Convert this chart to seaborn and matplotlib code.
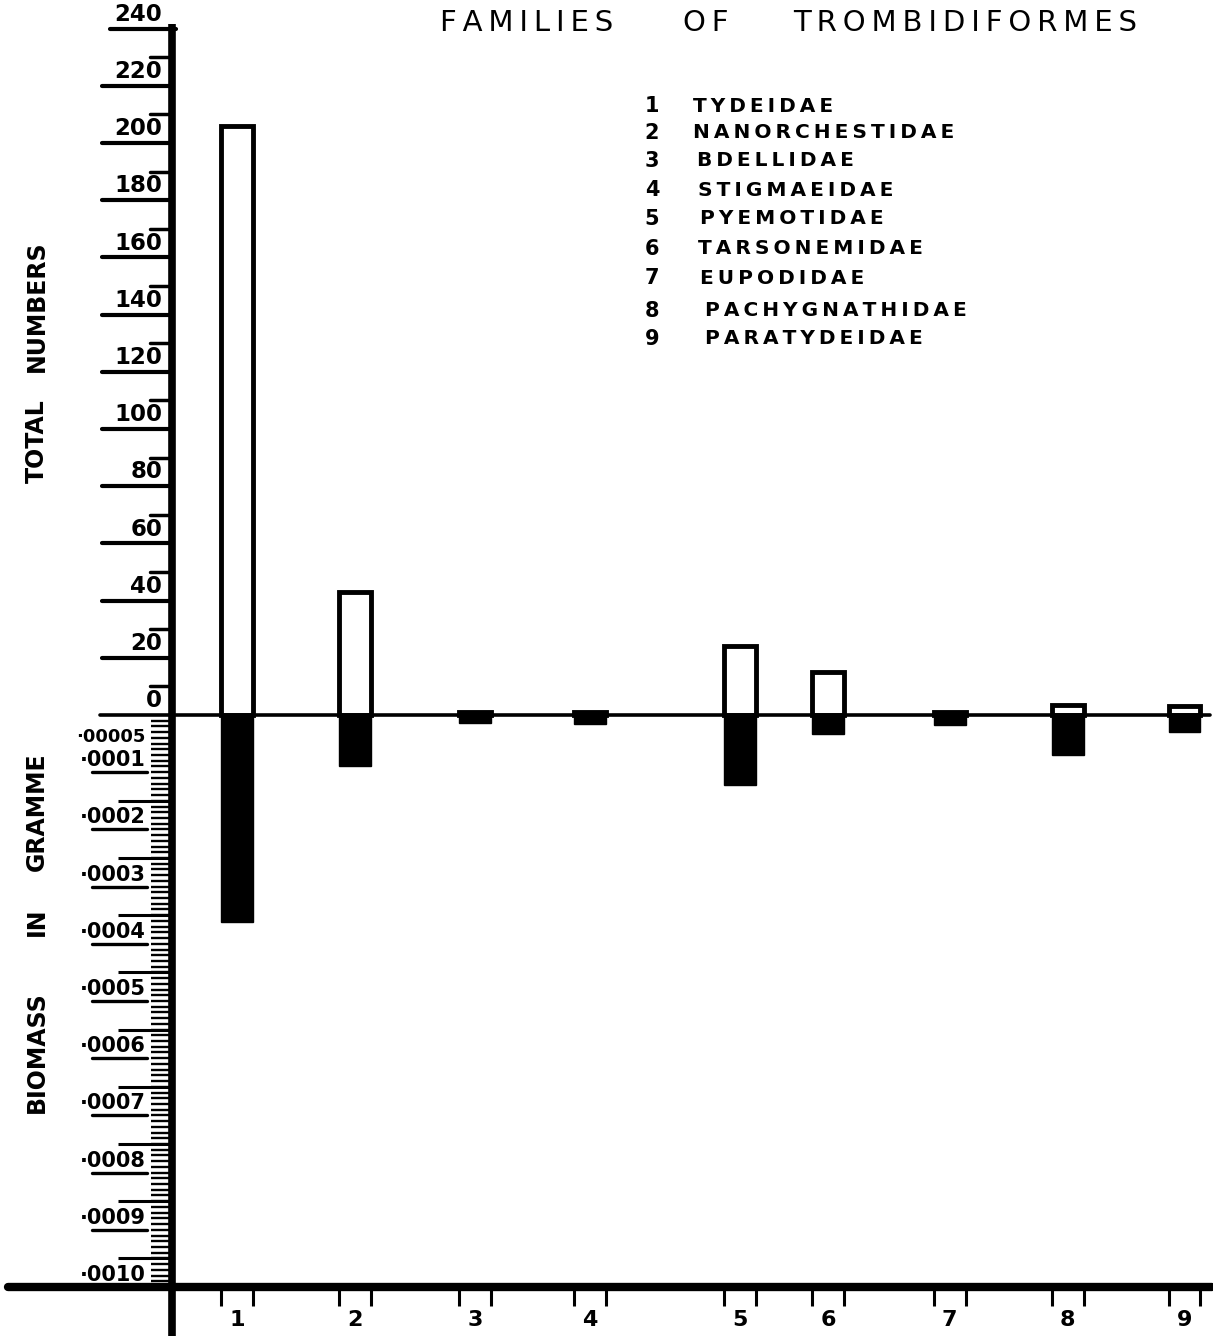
import numpy as np
import pandas as pd
import matplotlib
matplotlib.use("Agg")
import matplotlib.pyplot as plt
from matplotlib.transforms import blended_transform_factory
import seaborn as sns

# ---------------- data ----------------
family_numbers = [1, 2, 3, 4, 5, 6, 7, 8, 9]
family_names = ["TYDEIDAE", "NANORCHESTIDAE", "BDELLIDAE", "STIGMAEIDAE",
                "PYEMOTIDAE", "TARSONEMIDAE", "EUPODIDAE", "PACHYGNATHIDAE",
                "PARATYDEIDAE"]
total_numbers = [206, 43, 1, 1, 24, 15, 1, 3.5, 3]
biomass_g = [0.000362, 0.000089, 0.000014, 0.000016, 0.000122, 0.000033,
             0.000017, 0.000070, 0.000030]
count_ticks = [20, 40, 60, 80, 100, 120, 140, 160, 180, 200, 220, 240]
biomass_ticks = [0.0001, 0.0002, 0.0003, 0.0004, 0.0005, 0.0006, 0.0007,
                 0.0008, 0.0009, 0.0010]
biomass_tick_labels = ["·0001", "·0002", "·0003", "·0004", "·0005", "·0006",
                       "·0007", "·0008", "·0009", "·0010"]

# ---------------- layout (positions / styles) ----------------
family_pos = [1.0, 2.0, 3.02, 3.99, 5.26, 6.01, 7.04, 8.04, 9.03]
W, H = 1213, 1336
PX_UNIT = 118.0          # pixels per x unit
X_ORIGIN = 237.0         # pixel x of position 1
PX_COUNT = 2.86          # pixels per count
Y_ZERO = 715.0           # pixel y of zero line
G_PER_COUNT = 0.0001 / 20.0
BAR_W = 0.27

sns.set_theme(style="white")
plt.rcParams["font.family"] = ["DejaVu Sans"]
plt.rcParams["text.color"] = "black"

fig = plt.figure(figsize=(W / 100, H / 100), dpi=100)
fig.patch.set_facecolor("white")
ax = fig.add_axes([0, 0, 1, 1])
ax2 = ax.twinx()

df = pd.DataFrame({"pos": family_pos, "count": total_numbers,
                   "neg_biomass": -np.array(biomass_g)})
width = BAR_W / np.min(np.diff(family_pos))

sns.barplot(data=df, x="pos", y="count", native_scale=True, width=width,
            color="white", saturation=1, edgecolor="black", linewidth=3.5,
            errorbar=None, ax=ax, zorder=3)
sns.barplot(data=df, x="pos", y="neg_biomass", native_scale=True, width=width,
            color="black", saturation=1, edgecolor="black", linewidth=1,
            errorbar=None, ax=ax2, zorder=3)

xlim = (1 - X_ORIGIN / PX_UNIT, 1 + (W - X_ORIGIN) / PX_UNIT)
ylim_top = Y_ZERO / PX_COUNT
ylim_bot = -(H - Y_ZERO) / PX_COUNT
for a in (ax, ax2):
    a.set_xlim(*xlim)
    a.axis("off")
ax.set_ylim(ylim_bot, ylim_top)
ax2.set_ylim(ylim_bot * G_PER_COUNT, ylim_top * G_PER_COUNT)


def fx(px):
    return px / W


def fy(py):
    return 1 - py / H


tr_up = blended_transform_factory(fig.transFigure, ax.transData)
tr_lo = blended_transform_factory(fig.transFigure, ax2.transData)
tr_x = ax.get_xaxis_transform()

# axes lines
ax.plot([fx(172), fx(172)], [241.5, ylim_bot], transform=tr_up, color="black",
        lw=5.5, solid_capstyle="butt", zorder=5)
ax.plot([fx(100), fx(1210)], [0, 0], transform=tr_up, color="black", lw=2.6,
        zorder=4)
ax2.plot([fx(8), fx(1212)], [-0.001, -0.001], transform=tr_lo, color="black",
         lw=6, solid_capstyle="round", zorder=5)

# upper scale: total numbers
for v in count_ticks:
    ax.plot([fx(102 if v < 240 else 110), fx(176 if v == 240 else 172)], [v, v],
            transform=tr_up, color="black", lw=3, zorder=5)
    ax.text(fx(162), v + 1.0, str(v), transform=tr_up, ha="right", va="bottom",
            fontsize=16.5, fontweight="bold")
for v in range(10, 240, 20):
    ax.plot([fx(150), fx(172)], [v, v], transform=tr_up, color="black", lw=2.5,
            zorder=5)
ax.text(fx(162), 1.0, "0", transform=tr_up, ha="right", va="bottom",
        fontsize=16.5, fontweight="bold")

# lower scale: biomass in gramme
minor = np.arange(1, 101) * 0.00001
ax2.hlines(-minor, fx(151), fx(172), transform=tr_lo, color="black", lw=1.7,
           zorder=5)
half = (np.arange(1, 10) + 0.5) * 0.0001
ax2.hlines(-half, fx(118), fx(172), transform=tr_lo, color="black", lw=2.2,
           zorder=5)
for v, lab in zip(biomass_ticks, biomass_tick_labels):
    if v < 0.00099:
        ax2.plot([fx(92), fx(147)], [-v, -v], transform=tr_lo, color="black",
                 lw=2.4, zorder=5)
    ax2.text(fx(146), -v + 0.0000035, lab, transform=tr_lo, ha="right",
             va="bottom", fontsize=15, fontweight="bold")
ax2.text(fx(146), -0.00005 + 0.000012, "·00005", transform=tr_lo, ha="right",
         va="center", fontsize=13, fontweight="bold")

# x axis category ticks and labels
for p, n in zip(family_pos, family_numbers):
    ax.vlines([p - BAR_W / 2, p + BAR_W / 2], fy(1306), fy(1290),
              transform=tr_x, color="black", lw=2.2, zorder=5)
    ax.text(p, fy(1320), str(n), transform=tr_x, ha="center", va="center",
            fontsize=16, fontweight="bold")


def spaced(word):
    return "\u2009".join(word)


# title
for word, xp in [("FAMILIES", 440), ("OF", 683), ("TROMBIDIFORMES", 793)]:
    fig.text(fx(xp), fy(23), spaced(word), ha="left", va="center",
             fontsize=21)

# legend
legend_y = [106, 133, 161, 190, 219, 249, 278, 311, 339]
legend_x = [693, 693, 697, 698, 700, 698, 700, 705, 705]
for n, name, yy, xx in zip(family_numbers, family_names, legend_y, legend_x):
    fig.text(fx(652), fy(yy), str(n), ha="center", va="center", fontsize=15,
             fontweight="bold")
    fig.text(fx(xx), fy(yy), spaced(name), ha="left", va="center", fontsize=14.5,
             fontweight="bold")

# axis titles (rotated)
for word, yy in [("NUMBERS", 306), ("TOTAL", 441), ("GRAMME", 812),
                 ("IN", 922), ("BIOMASS", 1052)]:
    fig.text(fx(37), fy(yy), word, rotation=90, ha="center",
             va="center", fontsize=17, fontweight="bold")

fig.savefig("out.png", dpi=100, facecolor="white")
